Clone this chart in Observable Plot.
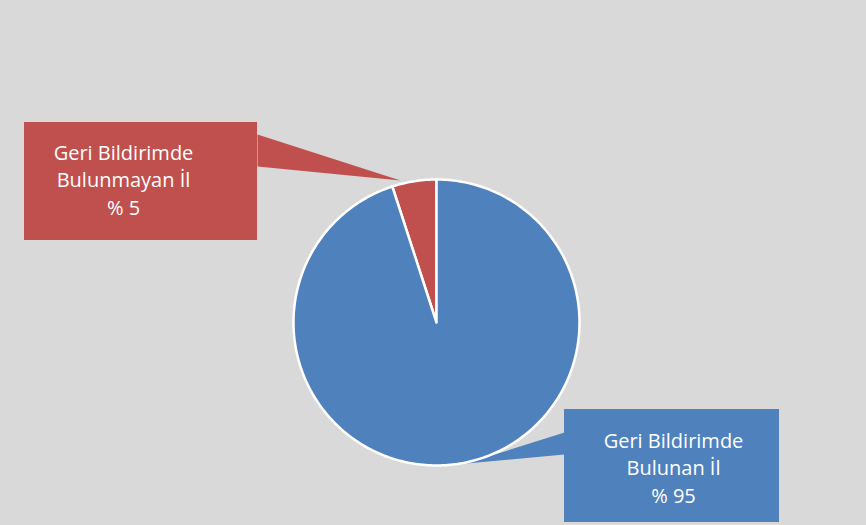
<!DOCTYPE html>
<html><head><meta charset="utf-8">
<script src="https://cdn.jsdelivr.net/npm/d3@7"></script>
<script src="https://cdn.jsdelivr.net/npm/@observablehq/plot@0.6"></script>
<style>html,body{margin:0;padding:0;background:#d9d9d9;overflow:hidden}</style>
</head><body><div id="chart"></div>
<script>
// data
const categories = ["Geri Bildirimde Bulunmayan İl", "Geri Bildirimde Bulunan İl"];
const values = [5, 95];
const labelTexts = ["Geri Bildirimde\nBulunmayan İl\n% 5", "Geri Bildirimde\nBulunan İl\n% 95"];
const colors = ["#c0504d", "#4f81bd"];

// layout
const W = 866, H = 525;
const cx = 436, cy = 322, r = 143;
const boxes = [
  {x1: 24, x2: 257, y1: 122, y2: 240, tx: 123, ty: 178, ptr: [[257, 134], [400, 180], [257, 166]]},
  {x1: 564, x2: 779, y1: 409, y2: 522, tx: 673, ty: 466, ptr: [[564, 432], [466, 463], [564, 454]]}
];

const deg = Math.PI / 180;
const pie = d3.pie().sort(null).startAngle(-18 * deg).endAngle(342 * deg);
const arcs = pie(values);
const pt = a => ({x: cx + r * Math.sin(a), y: cy - r * Math.cos(a)});
const slicePts = [];
arcs.forEach((a, i) => {
  const cat = categories[i];
  slicePts.push({cat, x: cx, y: cy});
  const n = Math.max(2, Math.ceil((a.endAngle - a.startAngle) / deg));
  for (let k = 0; k <= n; k++) {
    const ang = a.startAngle + (a.endAngle - a.startAngle) * k / n;
    slicePts.push({cat, ...pt(ang)});
  }
});
const ptrPts = [];
boxes.forEach((b, i) => b.ptr.forEach(p => ptrPts.push({cat: categories[i], x: p[0], y: p[1]})));
const boxData = boxes.map((b, i) => ({...b, cat: categories[i], label: labelTexts[i]}));

const chart = Plot.plot({
  width: W, height: H, margin: 0,
  x: {domain: [0, W], range: [0, W], axis: null},
  y: {domain: [0, H], range: [0, H], axis: null},
  color: {domain: categories, range: colors},
  style: {background: "#d9d9d9"},
  marks: [
    Plot.line(ptrPts, {x: "x", y: "y", z: "cat", fill: "cat", stroke: "none", curve: "linear-closed"}),
    Plot.line(slicePts, {x: "x", y: "y", z: "cat", fill: "cat", stroke: "white", strokeWidth: 2.5, strokeLinejoin: "round", curve: "linear-closed"}),
    Plot.rect(boxData, {x1: "x1", x2: "x2", y1: "y1", y2: "y2", fill: "cat"}),
    Plot.text(boxData, {x: "tx", y: "ty", text: "label", fill: "white", fontSize: 20, lineHeight: 1.38, fontFamily: "Open Sans", textAnchor: "middle"})
  ]
});
document.getElementById("chart").appendChild(chart);
</script>
</body></html>
